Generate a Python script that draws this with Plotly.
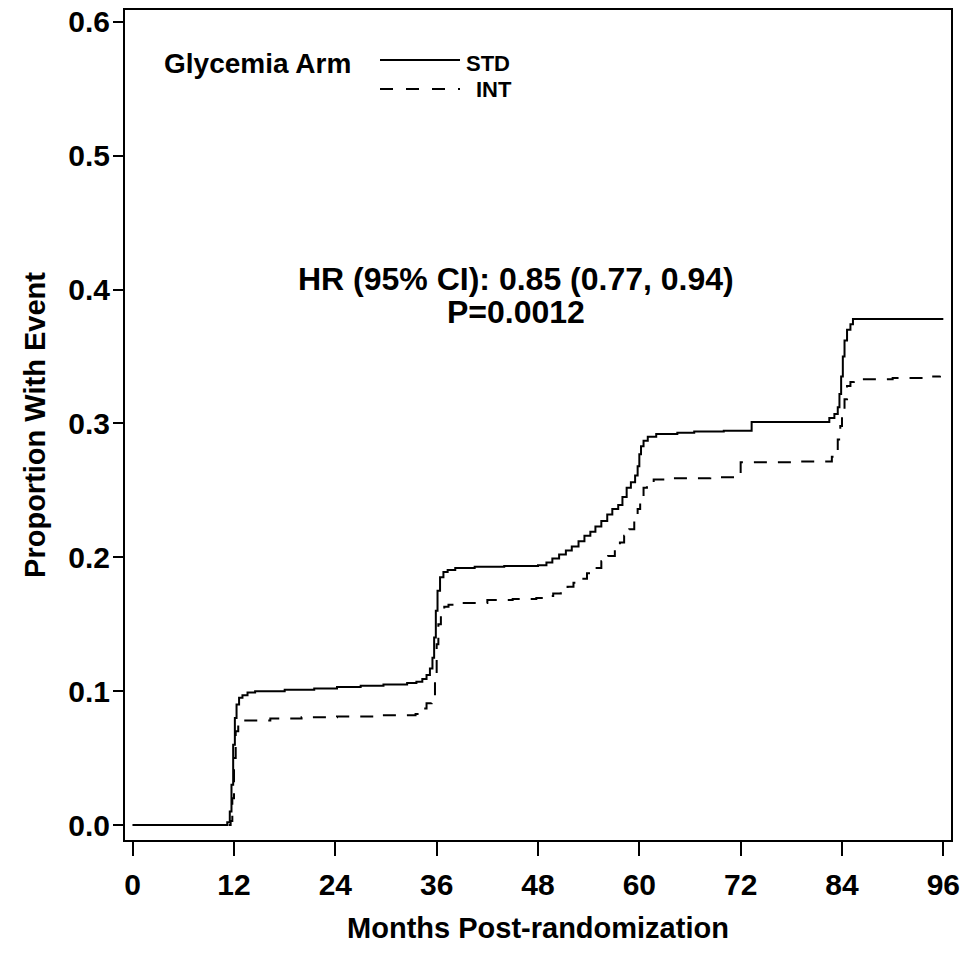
import plotly.graph_objects as go

# ---------------- data ----------------
std_months = [0, 11.2, 11.5, 11.7, 11.9, 12.1, 12.3, 12.6, 13.0, 13.6, 14.5, 18.0, 21.5, 24.2,
              27.0, 29.7, 32.5, 33.6, 34.3, 34.8, 35.2, 35.5, 35.7, 35.9, 36.1, 36.4, 36.8,
              37.3, 38.2, 40.5, 44.0, 48.0, 49.0, 49.7, 50.5, 51.3, 52.0, 52.8, 53.5, 54.2,
              54.8, 55.5, 56.2, 56.8, 57.5, 58.0, 58.5, 59.0, 59.5, 59.8, 60.0, 60.2, 60.5,
              61.0, 62.0, 64.5, 66.5, 70.0, 73.3, 82.5, 83.1, 83.5, 83.7, 83.9, 84.1, 84.3,
              84.6, 85.0, 85.3, 96.0]
std_prop = [0.000, 0.002, 0.010, 0.030, 0.060, 0.080, 0.090, 0.095, 0.097, 0.099, 0.100, 0.101,
            0.102, 0.103, 0.104, 0.105, 0.106, 0.107, 0.109, 0.112, 0.117, 0.125, 0.140, 0.160,
            0.175, 0.185, 0.189, 0.1905, 0.192, 0.193, 0.1935, 0.194, 0.196, 0.199, 0.202,
            0.205, 0.208, 0.212, 0.216, 0.219, 0.223, 0.227, 0.232, 0.236, 0.239, 0.245, 0.252,
            0.256, 0.261, 0.268, 0.277, 0.283, 0.287, 0.290, 0.292, 0.293, 0.294, 0.2945,
            0.301, 0.304, 0.307, 0.312, 0.322, 0.335, 0.350, 0.362, 0.370, 0.374, 0.378, 0.378]

int_months = [0, 11.6, 11.8, 12.0, 12.2, 12.5, 13.0, 16.3, 20.0, 24.2, 29.0, 33.5, 34.3, 34.8,
              35.4, 35.8, 36.0, 36.2, 36.5, 36.9, 37.4, 38.5, 42.0, 45.0, 47.8, 49.0, 49.8,
              50.7, 51.5, 52.2, 53.0, 53.8, 54.6, 55.5, 56.3, 57.1, 57.7, 58.2, 58.8, 59.4,
              59.8, 60.1, 60.5, 60.9, 61.7, 64.0, 68.4, 72.0, 78.0, 82.8, 83.2, 83.5, 83.8,
              84.0, 84.3, 84.6, 85.0, 85.4, 90.0, 94.2, 95.6]
int_prop = [0.000, 0.003, 0.020, 0.050, 0.070, 0.077, 0.078, 0.0795, 0.0805, 0.081, 0.082,
            0.083, 0.087, 0.091, 0.093, 0.110, 0.135, 0.150, 0.159, 0.163, 0.1645, 0.1658,
            0.168, 0.1688, 0.1695, 0.171, 0.173, 0.176, 0.178, 0.181, 0.184, 0.188, 0.192,
            0.197, 0.201, 0.207, 0.211, 0.216, 0.221, 0.228, 0.236, 0.245, 0.252, 0.256, 0.258,
            0.259, 0.2597, 0.271, 0.2715, 0.275, 0.280, 0.288, 0.298, 0.305, 0.318, 0.328,
            0.331, 0.333, 0.334, 0.335, 0.3356]

x_ticks = [0, 12, 24, 36, 48, 60, 72, 84, 96]
y_ticks = [0.0, 0.1, 0.2, 0.3, 0.4, 0.5, 0.6]
y_tick_text = ["0.0", "0.1", "0.2", "0.3", "0.4", "0.5", "0.6"]

legend_title = "Glycemia Arm"
series_names = ["STD", "INT"]
hr_text = "HR (95% CI): 0.85 (0.77, 0.94)"
p_text = "P=0.0012"
x_title = "Months Post-randomization"
y_title = "Proportion With Event"

# ---------------- layout geometry ----------------
W, H = 977, 955
ML, MR, MT, MB = 125, 26, 10, 115
PW, PH = W - ML - MR, H - MT - MB
FONT = "Liberation Sans, Arial, sans-serif"


def px2paper(px, py):
    return (px - ML) / PW, (MT + PH - py) / PH


fig = go.Figure()
fig.add_trace(go.Scatter(x=std_months, y=std_prop, mode="lines", name=series_names[0],
                         line=dict(color="black", width=2, shape="hv"), showlegend=False))
fig.add_trace(go.Scatter(x=int_months, y=int_prop, mode="lines", name=series_names[1],
                         line=dict(color="black", width=2, shape="hv", dash="13px,11px"),
                         showlegend=False))

bold = dict(family=FONT, color="black", weight="bold")

fig.update_layout(
    width=W, height=H,
    margin=dict(l=ML, r=MR, t=MT, b=MB, autoexpand=False),
    paper_bgcolor="white", plot_bgcolor="white",
    showlegend=False,
    xaxis=dict(range=[-0.91, 96.91], tickvals=x_ticks, ticks="outside", ticklen=14,
               tickwidth=2, tickcolor="black", showline=True, mirror=True, linewidth=2,
               linecolor="black", showgrid=False, zeroline=False,
               tickfont=dict(size=30, **bold), ticklabelstandoff=3,
               title=dict(text=x_title, font=dict(size=29, **bold), standoff=18)),
    yaxis=dict(range=[-0.0112, 0.6088], tickvals=y_ticks, ticktext=y_tick_text,
               ticks="outside", ticklen=10, tickwidth=2, tickcolor="black",
               showline=True, mirror=True, linewidth=2, linecolor="black",
               showgrid=False, zeroline=False,
               tickfont=dict(size=30, **bold), ticklabelstandoff=-3,
               title=dict(text=y_title, font=dict(size=29, **bold), standoff=14)),
)

# HR annotation
for txt, cx, cy in [(hr_text, 516, 279), (p_text, 516, 312)]:
    xp, yp = px2paper(cx, cy)
    fig.add_annotation(x=xp, y=yp, xref="paper", yref="paper", text=txt, showarrow=False,
                       xanchor="center", yanchor="middle", font=dict(size=32, **bold))

# legend (drawn by hand, as in the reference)
xp, yp = px2paper(163, 63.5)
fig.add_annotation(x=xp, y=yp, xref="paper", yref="paper", text=legend_title, showarrow=False,
                   xanchor="left", yanchor="middle", font=dict(size=28, **bold), borderpad=0)
for name, ly, tx, ty, dash in [(series_names[0], 60, 465, 63.5, "solid"),
                               (series_names[1], 89, 475, 90, "13px,13px")]:
    x0, y0 = px2paper(380, ly)
    x1, _ = px2paper(460, ly)
    fig.add_shape(type="line", xref="paper", yref="paper", x0=x0, x1=x1, y0=y0, y1=y0,
                  line=dict(color="black", width=2, dash=dash))
    xp, yp = px2paper(tx, ty)
    fig.add_annotation(x=xp, y=yp, xref="paper", yref="paper", text=name, showarrow=False,
                       xanchor="left", yanchor="middle", font=dict(size=22, **bold), borderpad=0)

fig.write_html("out.html")
